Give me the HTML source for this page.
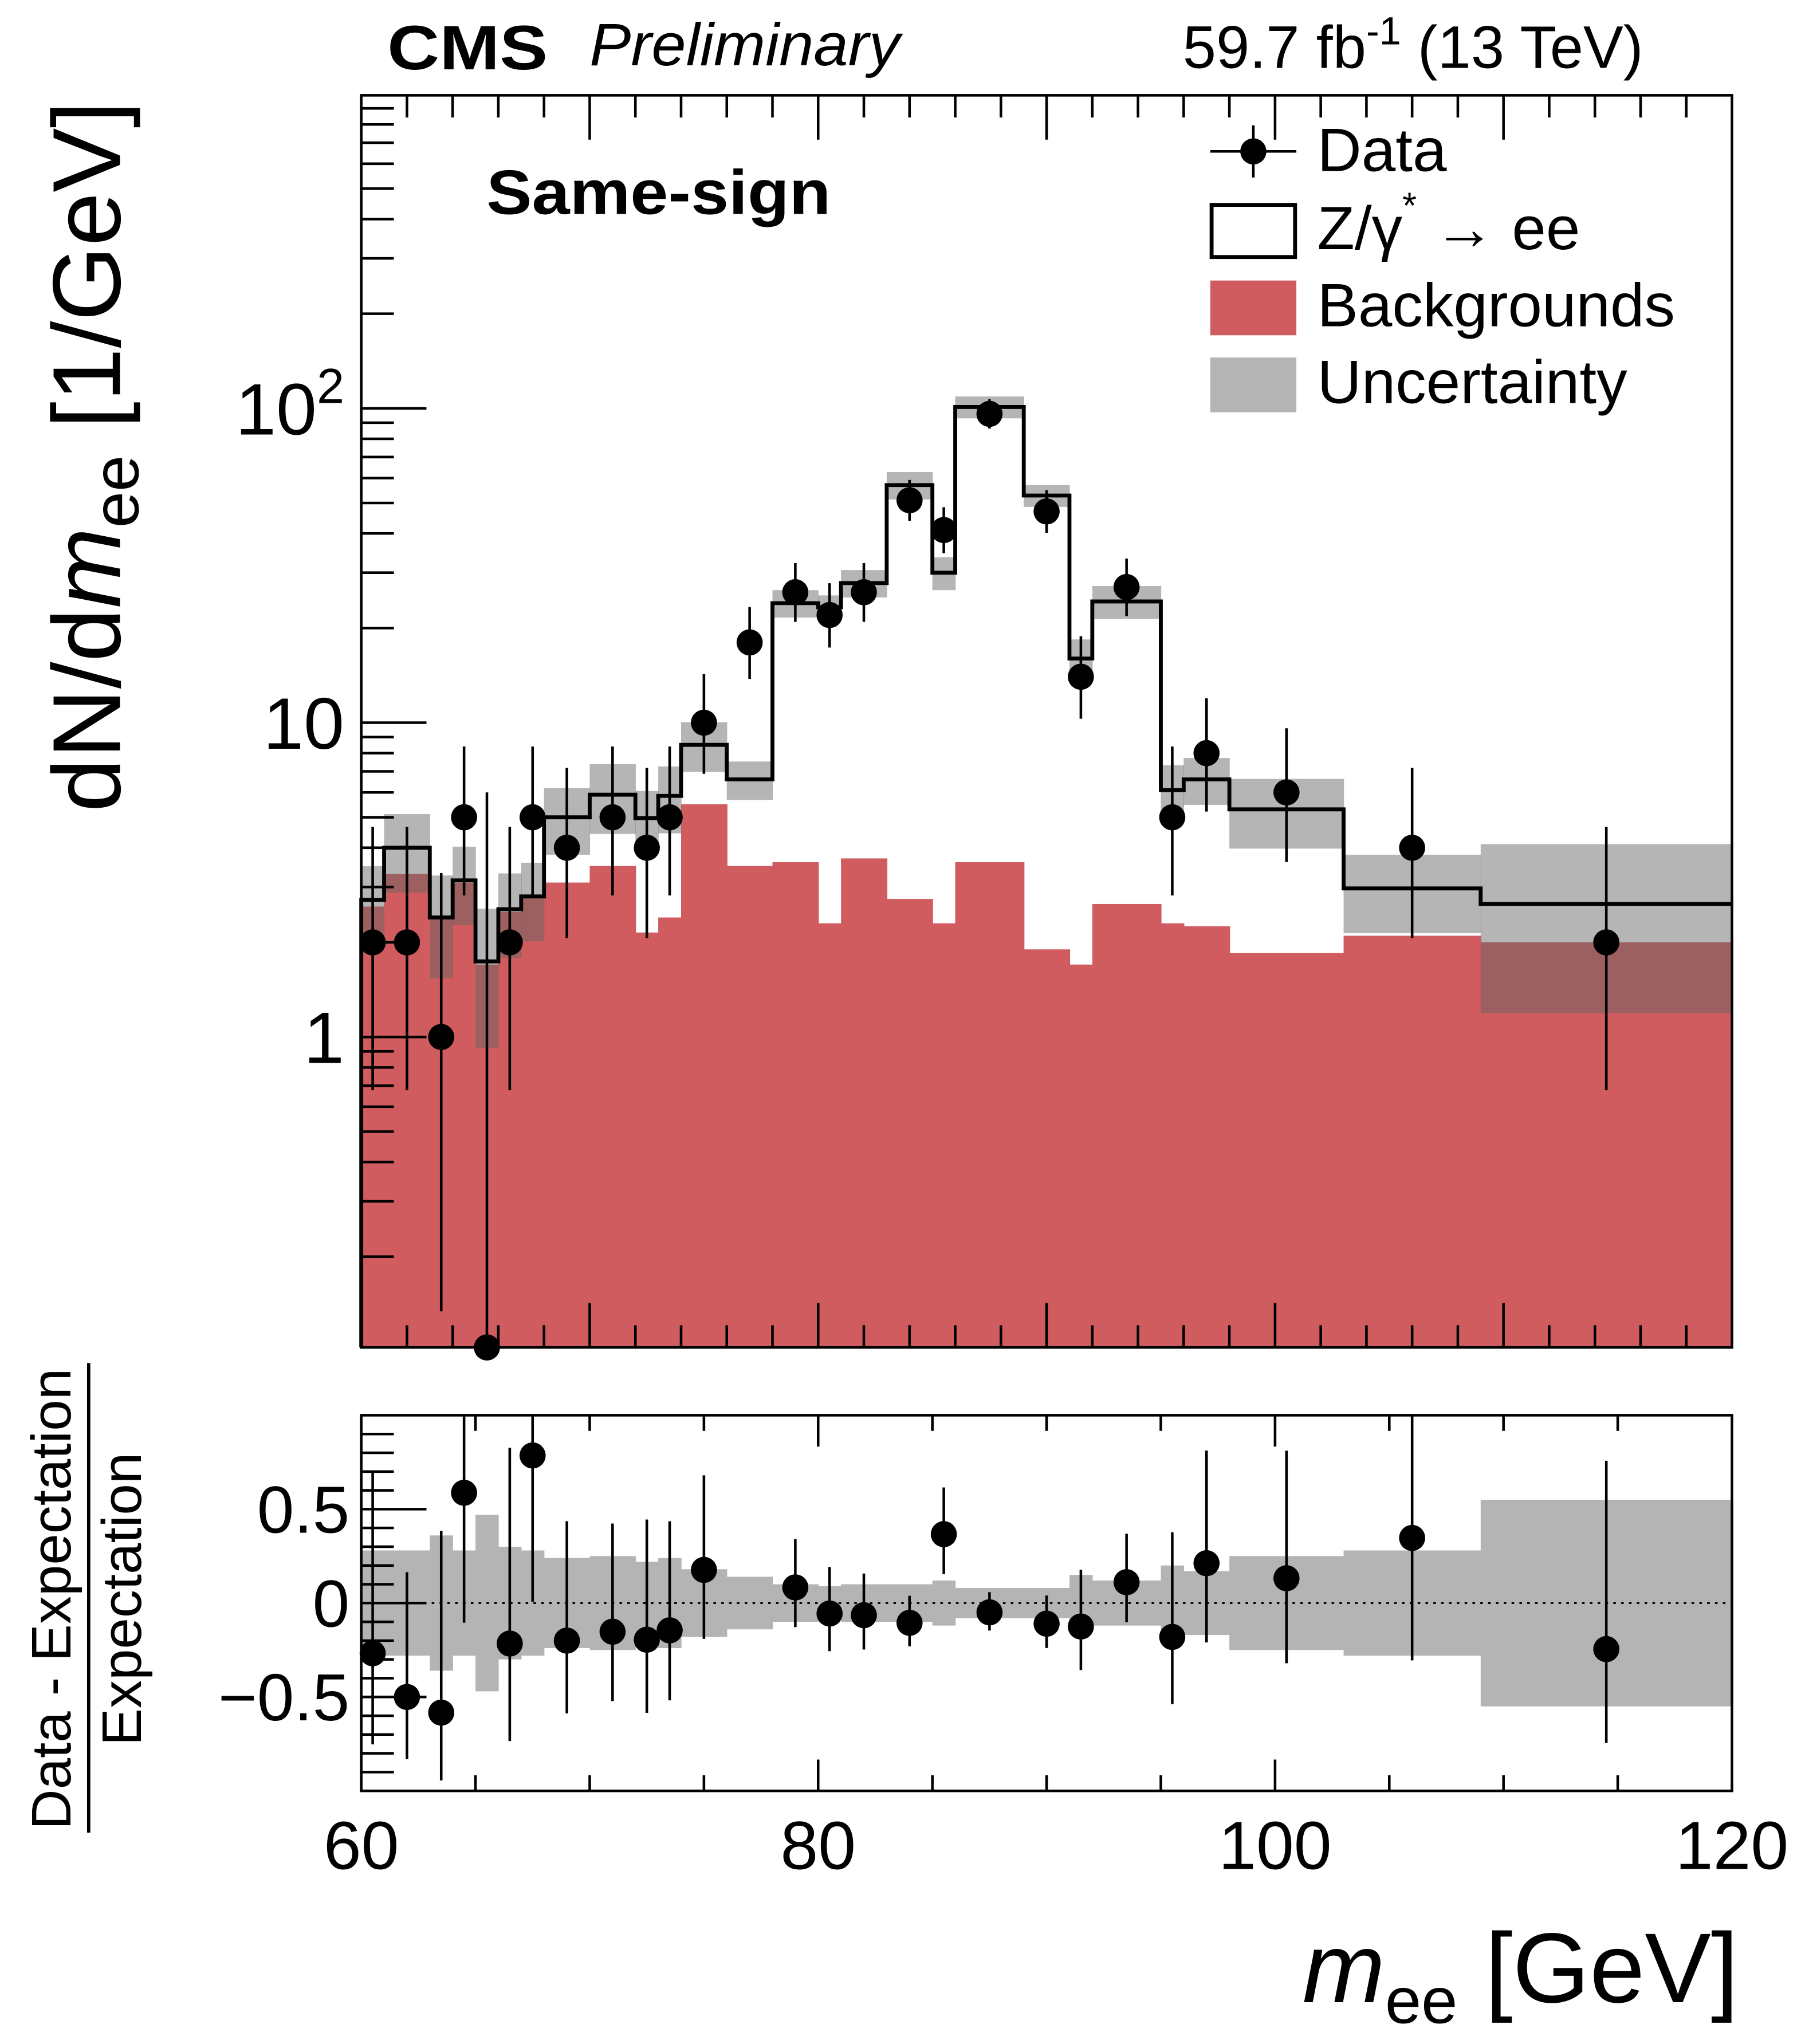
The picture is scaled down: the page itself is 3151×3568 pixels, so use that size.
<!DOCTYPE html>
<html><head><meta charset="utf-8"><style>
html,body{margin:0;padding:0;background:#fff}
svg{display:block}
text{font-family:"Liberation Sans",Arial,sans-serif}
</style></head><body>
<svg id="chart" width="3151" height="3568" viewBox="0 0 1384 1567" xmlns="http://www.w3.org/2000/svg">
<g id="bands"></g>
<g id="frames"></g>
<g id="labels">
 <text x="297" y="53" font-size="48" font-weight="bold" textLength="123" lengthAdjust="spacingAndGlyphs">CMS</text>
 <text x="452" y="50" font-size="46" font-style="italic" textLength="238" lengthAdjust="spacingAndGlyphs">Preliminary</text>
 <text x="1260" y="52" font-size="46" text-anchor="end">59.7 fb<tspan dy="-18" font-size="30">-1</tspan><tspan dy="18"> (13 TeV)</tspan></text>
 <text x="373" y="164" font-size="48" font-weight="bold" textLength="264" lengthAdjust="spacingAndGlyphs">Same-sign</text>
 <g>
  <line x1="928" y1="116" x2="994" y2="116" stroke="#000" stroke-width="2"/>
  <line x1="961" y1="96" x2="961" y2="136" stroke="#000" stroke-width="2"/>
  <circle cx="961" cy="116" r="10" fill="#000"/>
  <text x="1010" y="131" font-size="47">Data</text>
  <rect x="929" y="157" width="64" height="40" fill="#fff" stroke="#000" stroke-width="3"/>
  <text x="1010" y="191" font-size="47">Z/γ<tspan dy="-24" font-size="28">*</tspan><tspan dy="24"> → ee</tspan></text>
  <rect x="928" y="215" width="66" height="42" fill="#d05c5f"/>
  <text x="1010" y="250" font-size="47">Backgrounds</text>
  <rect x="928" y="274" width="66" height="42" fill="#b4b4b4"/>
  <text x="1010" y="309" font-size="47">Uncertainty</text>
 </g>
 <text transform="translate(92,350) rotate(-90)" font-size="74" text-anchor="middle">dN/d<tspan font-style="italic">m</tspan><tspan font-size="50" dy="14">ee</tspan><tspan dy="-14"> [1/GeV]</tspan></text>
 <text transform="translate(54,1226) rotate(-90)" font-size="43" text-anchor="middle">Data - Expectation</text>
 <line x1="68" y1="1045" x2="68" y2="1405" stroke="#000" stroke-width="2.5"/>
 <text transform="translate(108,1226) rotate(-90)" font-size="43" text-anchor="middle">Expectation</text>
 <text x="1333" y="1535" font-size="76" text-anchor="end"><tspan font-style="italic">m</tspan><tspan font-size="50" dy="16">ee</tspan><tspan dy="-16"> [GeV]</tspan></text>
</g>
<g id="marks"></g>
</svg>
<script>
const edges=[60,61,63,64,65,66,67,68,70,72,73,74,76,78,80,81,83,85,86,89,91,92,95,96,98,103,109,120];
const totalExp=[2.73,4.0,2.4,3.15,1.74,2.55,2.8,5.0,5.9,4.97,5.85,8.5,6.6,24.0,23.3,27.8,57,30,101,52.8,16,24.3,6.1,6.6,5.3,2.97,2.65];
const background=[2.6,3.3,2.4,3.1,1.7,2.5,2.8,3.1,3.5,2.15,2.4,5.5,3.5,3.6,2.3,3.7,2.75,2.3,3.6,1.9,1.7,2.65,2.3,2.25,1.85,2.1,2.0];
const relUnc=[0.28,0.28,0.36,0.28,0.47,0.30,0.28,0.24,0.25,0.22,0.24,0.18,0.14,0.10,0.09,0.10,0.10,0.12,0.08,0.08,0.15,0.12,0.2,0.17,0.25,0.28,0.55];
const dataVals=[2,2,1,5,0,2,5,4,5,4,5,10,18,26,22,26,51,41,96,47,14,27,5,8,6,4,2];
const xTicks=[60,80,100,120];
const yTickLabels=["1","10","10²"];
const ratioTicks=[0.5,0,-0.5];

const NS="http://www.w3.org/2000/svg";
const X0=277,X1=1328,MT=73,MB=1033,RT=1085,RB=1373;
const fx=v=>X0+(v-60)/60*(X1-X0);
const fy=v=>{const y=795-Math.log10(Math.max(v,1e-3))*241;return Math.min(Math.max(y,MT),MB);};
const fr=v=>Math.min(Math.max(1229-v*144,RT),RB);
function el(tag,attrs,parent){const e=document.createElementNS(NS,tag);for(const k in attrs)e.setAttribute(k,attrs[k]);parent.appendChild(e);return e;}
const bands=document.getElementById('bands'),marks=document.getElementById('marks'),frames=document.getElementById('frames');

for(let i=0;i<background.length;i++){
 const r=el('rect',{x:fx(edges[i]),y:fy(background[i]),width:fx(edges[i+1])-fx(edges[i])+0.5,height:MB-fy(background[i]),fill:'#d05c5f'},bands);
 
 
}
for(let i=0;i<totalExp.length;i++){
 const hi=fy(totalExp[i]*(1+relUnc[i])),lo=fy(totalExp[i]*(1-relUnc[i]));
 const r=el('rect',{x:fx(edges[i]),y:hi,width:fx(edges[i+1])-fx(edges[i])+0.3,height:lo-hi,fill:'#646464','fill-opacity':0.48},bands);
 
 
 const rr=el('rect',{x:fx(edges[i]),y:fr(relUnc[i]),width:fx(edges[i+1])-fx(edges[i])+0.3,height:fr(-relUnc[i])-fr(relUnc[i]),fill:'#b4b4b4'},bands);
 
 
}
let d='M'+fx(edges[0])+','+MB;
for(let i=0;i<totalExp.length;i++){d+=' L'+fx(edges[i])+','+fy(totalExp[i])+' L'+fx(edges[i+1])+','+fy(totalExp[i]);}
const step=el('path',{d:d,fill:'none',stroke:'#000','stroke-width':3},marks);


const zl=el('line',{x1:X0,x2:X1,y1:fr(0),y2:fr(0),stroke:'#000','stroke-width':1.5,'stroke-dasharray':'2,4'},marks);


for(let i=0;i<dataVals.length;i++){
 const cx=fx((edges[i]+edges[i+1])/2),v=dataVals[i];
 const up=v>0?Math.sqrt(v+0.75)+1:6,dn=v>0?Math.sqrt(Math.max(v-0.25,0)):0;
 const l=el('line',{x1:cx,x2:cx,y1:fy(v+up),y2:v>0?fy(Math.max(v-dn,1e-3)):MB,stroke:'#000','stroke-width':2},marks);
 
 
 const c=el('circle',{cx:cx,cy:fy(v),r:10,fill:'#000'},marks);
 
 
 const rv=v/totalExp[i]-1;
 if(v>0&&rv<1&&rv>-1){
  const l2=el('line',{x1:cx,x2:cx,y1:fr(rv+up/totalExp[i]),y2:fr(rv-dn/totalExp[i]),stroke:'#000','stroke-width':2},marks);
  
  
  const c2=el('circle',{cx:cx,cy:fr(rv),r:10,fill:'#000'},marks);
  
  
 }
}
const f1=el('rect',{x:X0,y:MT,width:X1-X0,height:MB-MT,fill:'none',stroke:'#000','stroke-width':2},frames);


const f2=el('rect',{x:X0,y:RT,width:X1-X0,height:RB-RT,fill:'none',stroke:'#000','stroke-width':2},frames);


for(let v=62;v<120;v+=2){const L=(v%10===0)?34:17;
 el('line',{x1:fx(v),x2:fx(v),y1:MB,y2:MB-L,stroke:'#000','stroke-width':2},frames);
 el('line',{x1:fx(v),x2:fx(v),y1:MT,y2:MT+L,stroke:'#000','stroke-width':2},frames);}
for(let v=65;v<120;v+=5){const L=(v%20===0)?24:12;
 el('line',{x1:fx(v),x2:fx(v),y1:RB,y2:RB-L,stroke:'#000','stroke-width':2},frames);
 el('line',{x1:fx(v),x2:fx(v),y1:RT,y2:RT+L,stroke:'#000','stroke-width':2},frames);}
xTicks.forEach(v=>{const t=el('text',{x:fx(v),y:1433,'font-size':52,'text-anchor':'middle'},frames);t.textContent=v;
 
 });
for(let e=-1;e<3;e++)for(let m=1;m<10;m++){const v=m*Math.pow(10,e);const y=795-Math.log10(v)*241;if(y<MT||y>MB)continue;
 const L=m===1?50:25;
 el('line',{x1:X0,x2:X0+L,y1:y,y2:y,stroke:'#000','stroke-width':2},frames);}
yTickLabels.forEach((s,i)=>{const t=el('text',{x:264,y:795-i*241+20,'font-size':56,'text-anchor':'end'},frames);
 if(i===2){t.innerHTML='10<tspan dy="-24" font-size="38">2</tspan>';}else t.textContent=s;
 
 });
for(let v=-0.9;v<=0.95;v+=0.1){const y=fr(v);const isMaj=Math.abs(Math.round(v*10)%5)===0;
 el('line',{x1:X0,x2:X0+(isMaj?50:25),y1:y,y2:y,stroke:'#000','stroke-width':2},frames);}
ratioTicks.forEach(v=>{const t=el('text',{x:268,y:fr(v)+18,'font-size':51,'text-anchor':'end'},frames);t.textContent=v===0?'0':(v<0?'\u22120.5':'0.5');
 
 });
</script>
</body></html>
